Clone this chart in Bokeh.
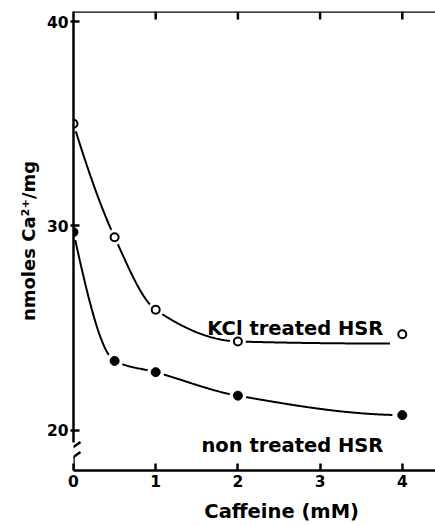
import numpy as np
from bokeh.plotting import figure
from bokeh.models import Range1d, LinearAxis, FixedTicker, ColumnDataSource
from bokeh.core.properties import value
from bokeh.embed import file_html
from bokeh.resources import INLINE

# ---- data ----
caffeine_mM = [0, 0.5, 1, 2, 4]
kcl_treated = [35.0, 29.45, 25.9, 24.35, 24.7]
non_treated = [29.7, 23.4, 22.85, 21.7, 20.75]
# hand-drawn fit curve through the KCl points (levels off before the last point)
kcl_fit_x = [0, 0.5, 1, 2, 3.85]
kcl_fit_y = [35.0, 29.45, 25.9, 24.35, 24.25]
non_fit_end = 3.88
x_ticks = [0, 1, 2, 3, 4]
top_ticks = [1, 2, 3, 4]
y_ticks = [20, 30, 40]
series_labels = ["KCl treated HSR", "non treated HSR"]
x_title = "Caffeine (mM)"
y_title = "nmoles Ca\u00b2\u207a/mg"

FONT = "DejaVu Sans"
X0, X1 = 0, 4.404
Y0, Y1 = 18.04, 40.49
PX_X = 362 / (X1 - X0)   # pixels per x unit
PX_Y = 459 / (Y1 - Y0)   # pixels per y unit


def pchip(xk, yk, xs):
    xk = np.asarray(xk, float)
    yk = np.asarray(yk, float)
    h = np.diff(xk)
    d = np.diff(yk) / h
    n = len(xk)
    m = np.zeros(n)
    for k in range(1, n - 1):
        if d[k - 1] * d[k] > 0:
            w1 = 2 * h[k] + h[k - 1]
            w2 = h[k] + 2 * h[k - 1]
            m[k] = (w1 + w2) / (w1 / d[k - 1] + w2 / d[k])

    def end(h0, h1, d0, d1):
        mm = ((2 * h0 + h1) * d0 - h0 * d1) / (h0 + h1)
        if np.sign(mm) != np.sign(d0):
            mm = 0.0
        elif np.sign(d0) != np.sign(d1) and abs(mm) > 3 * abs(d0):
            mm = 3 * d0
        return mm

    m[0] = end(h[0], h[1], d[0], d[1])
    m[-1] = end(h[-1], h[-2], d[-1], d[-2])
    xs = np.asarray(xs, float)
    idx = np.clip(np.searchsorted(xk, xs) - 1, 0, n - 2)
    t = (xs - xk[idx]) / h[idx]
    h00 = 2 * t**3 - 3 * t**2 + 1
    h10 = t**3 - 2 * t**2 + t
    h01 = -2 * t**3 + 3 * t**2
    h11 = t**3 - t**2
    return h00 * yk[idx] + h10 * h[idx] * m[idx] + h01 * yk[idx + 1] + h11 * h[idx] * m[idx + 1]


p = figure(width=435, height=525, output_backend="svg", toolbar_location=None,
           x_range=Range1d(X0, X1), y_range=Range1d(Y0, Y1),
           min_border_left=73, min_border_right=0, min_border_top=11, min_border_bottom=55,
           x_axis_location=None, y_axis_location=None)
p.outline_line_color = None
p.background_fill_color = "white"
p.border_fill_color = "white"
for g in p.grid:
    g.visible = False

# left axis (upper part, above the break)
yax = LinearAxis(ticker=FixedTicker(ticks=y_ticks), bounds=(19.41, Y1),
                 axis_line_width=2.5, major_tick_line_width=2.5,
                 major_tick_in=6, major_tick_out=3, minor_tick_line_color=None,
                 major_label_text_font=FONT, major_label_text_font_size="15.5px",
                 major_label_text_font_style="bold",
                 major_label_text_color="black", major_label_standoff=2,
                 axis_label=y_title, axis_label_text_font=FONT,
                 axis_label_text_font_size="18px", axis_label_text_font_style="bold",
                 axis_label_text_color="black", axis_label_standoff=5)
p.add_layout(yax, "left")

# bottom axis; title padded so that it sits centred on the original (wider) frame
pad = "\u00a0" * 8
xax = LinearAxis(ticker=FixedTicker(ticks=x_ticks),
                 axis_line_width=2.5, major_tick_line_width=2.5,
                 major_tick_in=7, major_tick_out=0, minor_tick_line_color=None,
                 major_label_text_font=FONT, major_label_text_font_size="15.5px",
                 major_label_text_font_style="bold",
                 major_label_text_color="black", major_label_standoff=4,
                 axis_label=pad + x_title, axis_label_text_font=FONT,
                 axis_label_text_font_size="19.5px", axis_label_text_font_style="bold",
                 axis_label_text_color="black", axis_label_standoff=10)
p.add_layout(xax, "below")

# top border with inward ticks
p.segment(x0=[X0], y0=[Y1], x1=[X1], y1=[Y1], line_color="black", line_width=2.5)
p.segment(x0=top_ticks, y0=[Y1] * len(top_ticks), x1=top_ticks,
          y1=[Y1 - 8 / PX_Y] * len(top_ticks), line_color="black", line_width=2.5)

# axis break on the y axis: two slashes and the short stub below them
bx0, bx1 = -5 / PX_X, 7 / PX_X
p.segment(x0=[bx0, bx0], y0=[19.02, 18.53], x1=[bx1, bx1], y1=[19.43, 18.94],
          line_color="black", line_width=2.5)
p.segment(x0=[0], y0=[Y0], x1=[0], y1=[18.72], line_color="black", line_width=2.5)

# fit curves
xs_k = np.linspace(kcl_fit_x[0], kcl_fit_x[-1], 300)
p.line(xs_k, pchip(kcl_fit_x, kcl_fit_y, xs_k), line_color="black", line_width=2)
xs_n = np.linspace(caffeine_mM[0], non_fit_end, 300)
p.line(xs_n, pchip(caffeine_mM, non_treated, xs_n), line_color="black", line_width=2)

src = ColumnDataSource(dict(x=caffeine_mM, kcl=kcl_treated, non=non_treated))
# white halos that break the curves around the points
p.scatter("x", "kcl", source=src, marker="circle", size=16, fill_color="white", line_color=None)
p.scatter("x", "non", source=src, marker="circle", size=17, fill_color="white", line_color=None)
p.scatter("x", "kcl", source=src, marker="circle", size=8, fill_color="white",
          line_color="black", line_width=2)
p.scatter("x", "non", source=src, marker="circle", size=9, fill_color="black",
          line_color="black", line_width=1)

# series labels
p.text(x=[3.77, 3.77], y=[24.99, 19.25], text=series_labels, text_align="right",
       text_baseline="alphabetic", text_font=value(FONT), text_font_size="19.5px",
       text_font_style="bold", text_color="black")

open("out.html", "w").write(file_html(p, INLINE))
